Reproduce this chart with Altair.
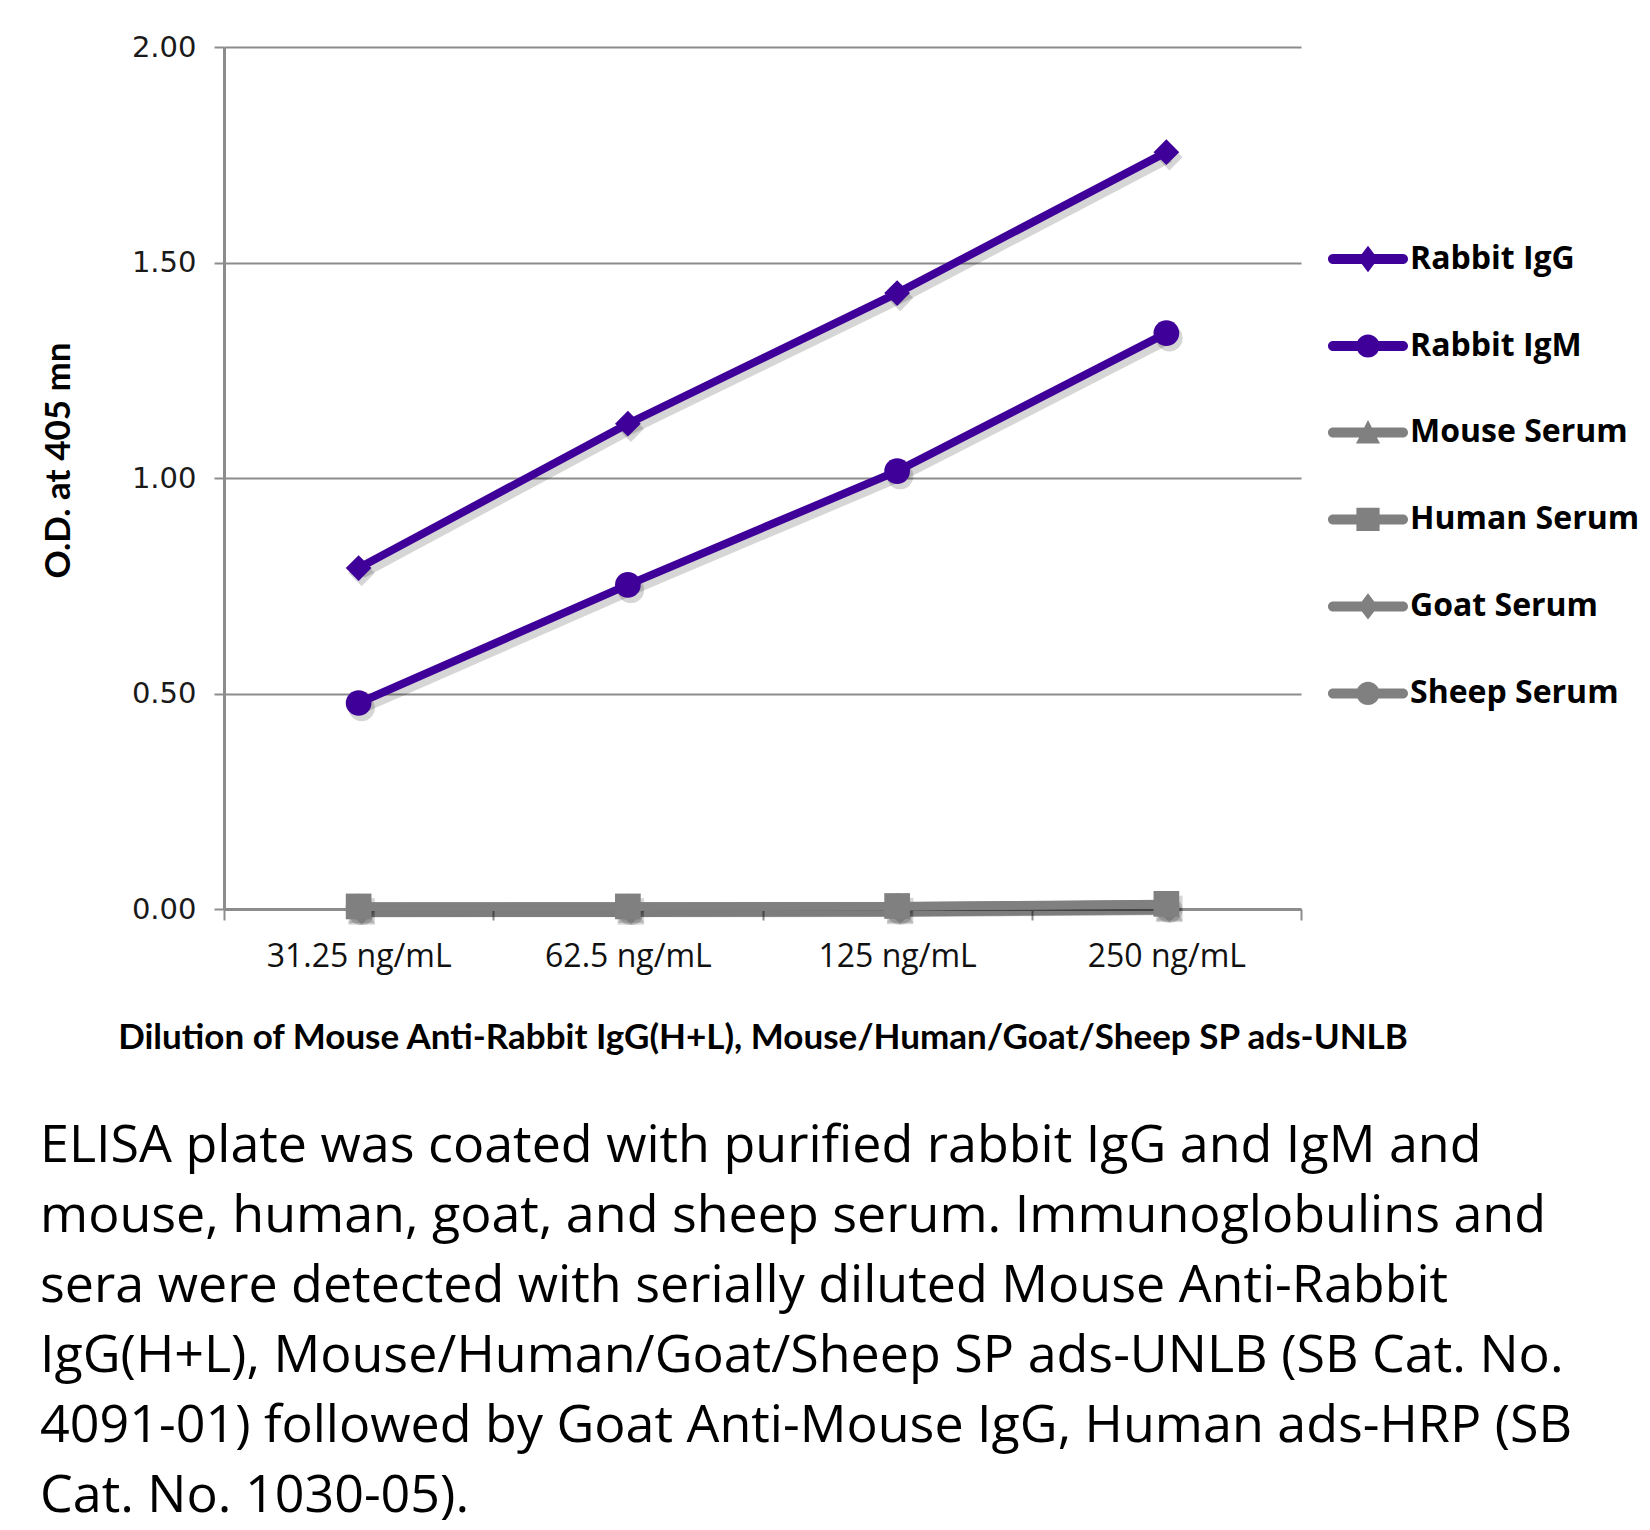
import altair as alt
import pandas as pd

# ---- data ----
dilutions = ["31.25 ng/mL", "62.5 ng/mL", "125 ng/mL", "250 ng/mL"]
series_names = ["Rabbit IgG", "Rabbit IgM", "Mouse Serum", "Human Serum", "Goat Serum", "Sheep Serum"]
rabbit_names = ["Rabbit IgG", "Rabbit IgM"]
serum_names = ["Mouse Serum", "Human Serum", "Goat Serum", "Sheep Serum"]
rabbit_igg = [0.791, 1.126, 1.429, 1.756]
rabbit_igm = [0.478, 0.752, 1.016, 1.336]
mouse_serum = [0.005, 0.006, 0.006, 0.011]
human_serum = [0.006, 0.006, 0.007, 0.012]
goat_serum = [0.006, 0.006, 0.007, 0.011]
sheep_serum = [0.005, 0.005, 0.006, 0.010]

series_values = {
    "Mouse Serum": mouse_serum,
    "Goat Serum": goat_serum,
    "Sheep Serum": sheep_serum,
    "Human Serum": human_serum,
    "Rabbit IgM": rabbit_igm,
    "Rabbit IgG": rabbit_igg,
}
marker_names = {
    "Rabbit IgG": "diamond", "Rabbit IgM": "circle", "Mouse Serum": "triangle-up",
    "Human Serum": "square", "Goat Serum": "diamond", "Sheep Serum": "circle",
}

caption_lines = [
    "ELISA plate was coated with purified rabbit IgG and IgM and",
    "mouse, human, goat, and sheep serum.  Immunoglobulins and",
    "sera were detected with serially diluted Mouse Anti-Rabbit",
    "IgG(H+L), Mouse/Human/Goat/Sheep SP ads-UNLB (SB Cat. No.",
    "4091-01) followed by Goat Anti-Mouse IgG, Human ads-HRP (SB",
    "Cat. No. 1030-05).",
]
x_title = "Dilution of Mouse Anti-Rabbit IgG(H+L), Mouse/Human/Goat/Sheep SP ads-UNLB"
y_title = "O.D. at 405 mn"

rows = []
for s, vals in series_values.items():
    for d, v in zip(dilutions, vals):
        rows.append({"dilution": d, "series": s, "od": v, "marker": marker_names[s]})
df = pd.DataFrame(rows)

PURPLE = "#3f0099"
GRAY = "#808080"
color_range = [PURPLE, PURPLE, GRAY, GRAY, GRAY, GRAY]

# legend glyphs: line segment + marker, in the [-1, 1] box
bar = "M-0.875,-0.125 L0.875,-0.125 A0.125,0.125 0 0 1 0.875,0.125 L-0.875,0.125 A0.125,0.125 0 0 1 -0.875,-0.125 Z "
leg_diamond = bar + "M0,-0.33 L0.25,0 L0,0.33 L-0.25,0 Z"
leg_circle = bar + "M-0.29,0 A0.29,0.29 0 1 1 0.29,0 A0.29,0.29 0 1 1 -0.29,0 Z"
leg_triangle = bar + "M0,-0.31 L0.3,0.28 L-0.3,0.28 Z"
leg_square = bar + "M-0.29,-0.29 L0.29,-0.29 L0.29,0.29 L-0.29,0.29 Z"
rabbit_shapes = [leg_diamond, leg_circle]
serum_shapes = [leg_triangle, leg_square, leg_diamond, leg_circle]

x_enc = alt.X(
    "dilution:N",
    sort=dilutions,
    scale=alt.Scale(domain=dilutions, paddingInner=0, paddingOuter=0),
    axis=alt.Axis(
        title=x_title,
        labelAngle=0,
        labelFont="Open Sans",
        labelFontSize=32,
        labelColor="#111",
        labelPadding=21,
        labelLimit=400,
        tickBand="extent",
        tickSize=11,
        tickColor="#8c8c8c",
        tickWidth=2,
        domainColor="#8c8c8c",
        domainWidth=3,
        grid=False,
        titleFont="Lato",
        titleFontSize=35,
        titleFontWeight="bold",
        titleColor="#000",
        titlePadding=48,
        titleLimit=1600,
    ),
)
y_enc = alt.Y(
    "od:Q",
    scale=alt.Scale(domain=[0, 2], nice=False, zero=True),
    axis=alt.Axis(
        title=y_title,
        values=[0, 0.5, 1.0, 1.5, 2.0],
        format=".2f",
        labelFont="DejaVu Sans",
        labelFontSize=29,
        labelColor="#1a1a1a",
        labelPadding=18,
        tickSize=10,
        tickColor="#8c8c8c",
        tickWidth=2,
        domainColor="#8c8c8c",
        domainWidth=3,
        grid=True,
        gridColor="#8c8c8c",
        gridWidth=2,
        titleFont="Lato",
        titleFontSize=35,
        titleFontWeight="bold",
        titleColor="#000",
        titleAngle=270,
        titleAlign="center",
        titleBaseline="middle",
        titleX=-166,
        titleY=413,
    ),
)
color_enc_noleg = alt.Color("series:N", scale=alt.Scale(domain=series_names, range=color_range), legend=None)

base = alt.Chart(df)

shadow_line = base.mark_line(color="#000", opacity=0.16, strokeWidth=11, xOffset=3, yOffset=5).encode(
    x=x_enc, y=y_enc, detail="series:N"
)
shadow_pts = base.mark_point(filled=True, color="#000", opacity=0.16, size=700, xOffset=3, yOffset=5).encode(
    x=x_enc, y=y_enc,
    shape=alt.Shape("marker:N", scale=None, legend=None),
)
lines = base.mark_line(strokeWidth=8).encode(x=x_enc, y=y_enc, color=color_enc_noleg)
points = base.mark_point(filled=True, opacity=1, size=660, strokeWidth=0).encode(
    x=x_enc, y=y_enc, color=color_enc_noleg,
    shape=alt.Shape("marker:N", scale=None, legend=None),
)

ROW_STEP = 86.7
LEG_X = 1104
LEG_Y = 172


def legend_props(y):
    return dict(
        title=None,
        orient="none",
        legendX=LEG_X,
        legendY=y,
        padding=0,
        symbolSize=6400,
        symbolStrokeWidth=0,
        symbolOpacity=1,
        labelFont="Open Sans",
        labelFontSize=32,
        labelFontWeight="bold",
        labelColor="#000",
        labelLimit=400,
        labelOffset=2,
        rowPadding=31,
    )


legend_rabbit = base.mark_point(filled=True, opacity=1, color=PURPLE).encode(
    x=x_enc, y=y_enc,
    shape=alt.Shape(
        "series:N",
        scale=alt.Scale(domain=rabbit_names, range=rabbit_shapes),
        legend=alt.Legend(symbolFillColor=PURPLE, **legend_props(LEG_Y)),
    ),
).transform_filter("false")

legend_serum = base.mark_point(filled=True, opacity=1, color=GRAY).encode(
    x=x_enc, y=y_enc,
    shape=alt.Shape(
        "series:N",
        scale=alt.Scale(domain=serum_names, range=serum_shapes),
        legend=alt.Legend(symbolFillColor=GRAY, **legend_props(LEG_Y + 2 * ROW_STEP)),
    ),
).transform_filter("false")

chart = (
    alt.layer(shadow_line, shadow_pts, lines, points, legend_rabbit, legend_serum)
    .resolve_scale(shape="independent")
    .properties(
        width=1077,
        height=862,
        autosize=alt.AutoSizeParams(type="none"),
        padding={"left": 216, "top": 39, "right": 340, "bottom": 621},
        title=alt.TitleParams(
            text=caption_lines,
            orient="bottom",
            anchor="start",
            frame="group",
            dx=-184,
            offset=66,
            font="Open Sans",
            fontSize=52,
            fontWeight="normal",
            lineHeight=70,
            color="#000",
        ),
        background="white",
    )
    .configure_view(stroke=None)
)

chart.save("out.html", embed_options={"renderer": "svg", "actions": False})
